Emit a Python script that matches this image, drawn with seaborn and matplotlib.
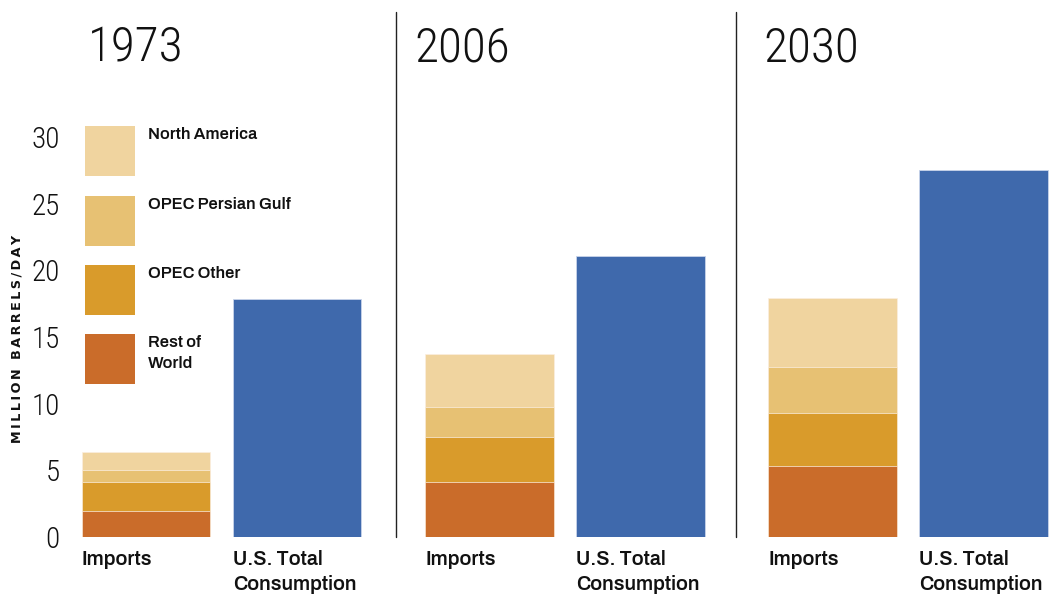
import matplotlib
matplotlib.use("Agg")
import matplotlib.pyplot as plt
import seaborn as sns
from matplotlib.patches import Rectangle
from matplotlib.lines import Line2D

years = ["1973", "2006", "2030"]
regions = ["Rest of\nWorld", "OPEC Other", "OPEC Persian Gulf", "North America"]
rest_of_world = [1.95, 4.1, 5.3]
opec_other = [2.15, 3.4, 4.0]
opec_persian_gulf = [0.9, 2.25, 3.45]
north_america = [1.4, 4.0, 5.15]
total_consumption = [17.85, 21.05, 27.5]
bar_labels = ["Imports", "U.S. Total\nConsumption"]
y_ticks = [0, 5, 10, 15, 20, 25, 30]

region_colors = ["#CA6C2A", "#D99B2B", "#E7C173", "#F0D49F"]
total_color = "#3F69AC"

sns.set_theme(style="white")
narrow = ["Roboto Condensed", "DejaVu Sans"]
bold_font = ["Archivo", "Liberation Sans", "DejaVu Sans"]

W, H = 1049, 595
fig = plt.figure(figsize=(W / 100, H / 100), dpi=100)

def fx(px):
    return px / W

def fy(py):
    return 1 - py / H

import_centers = [146, 489.5, 832.5]
stacks = [rest_of_world, opec_other, opec_persian_gulf, north_america]

for i, year in enumerate(years):
    left = import_centers[i] - 75.5
    ax = fig.add_axes([fx(left), fy(537), 302 / W, 400 / H])
    # stacked imports: cumulative heights, tallest drawn first
    cum = []
    s = 0
    for k in range(len(stacks)):
        s += stacks[k][i]
        cum.append(s)
    for k in reversed(range(len(stacks))):
        sns.barplot(x=["Imports"], y=[cum[k]], order=bar_labels, width=0.85,
                    color=region_colors[k], saturation=1, edgecolor="#fbeee0",
                    linewidth=0.5, ax=ax)
    sns.barplot(x=[bar_labels[1]], y=[total_consumption[i]], order=bar_labels,
                width=0.85, color=total_color, saturation=1, edgecolor="#c8d4ea",
                linewidth=0.6, ax=ax)
    ax.set_xlim(-0.5, 1.5)
    ax.set_ylim(0, 30)
    ax.set_xlabel("")
    ax.set_ylabel("")
    ax.set_xticks([])
    for sp in ax.spines.values():
        sp.set_visible(False)
    if i == 0:
        ax.set_yticks(y_ticks)
        ax.set_yticklabels([str(t) for t in y_ticks], family=narrow,
                           fontweight="light", fontsize=21, color="#111111")
        ax.tick_params(axis="y", length=0, pad=8)
    else:
        ax.set_yticks([])
    for j, lab in enumerate(bar_labels):
        ax.text(j - 0.425, -0.032, lab, transform=ax.get_xaxis_transform(),
                ha="left", va="top", fontsize=14.3, fontweight=800,
                family=bold_font, linespacing=1.4, color="#111111")
    fig.text(fx([88, 414, 763][i]), fy(62), year, family=narrow, fontweight="light",
             fontsize=35.5, va="baseline", ha="left", color="#111111")

# separators between the panels
for xs in [396, 736]:
    fig.add_artist(Line2D([fx(xs), fx(xs)], [fy(12), fy(537)], color="#222222", lw=1))

# legend
leg_tops = [126, 196, 265, 334]
for k, top in zip([3, 2, 1, 0], leg_tops):
    fig.add_artist(Rectangle((fx(85), fy(top + 50)), 50 / W, 50 / H,
                             facecolor=region_colors[k], edgecolor="none"))
    fig.text(fx(148), fy(top + 1), regions[k], ha="left", va="top", fontsize=11.8,
             fontweight=800, family=bold_font, linespacing=1.5, color="#111111")

fig.text(fx(17), fy(339), "\u2009".join("MILLION BARRELS/DAY"), rotation=90,
         ha="center", va="center", fontsize=9.2, fontweight="bold",
         family="DejaVu Sans", color="#111111")

fig.savefig("out.png", dpi=100)
